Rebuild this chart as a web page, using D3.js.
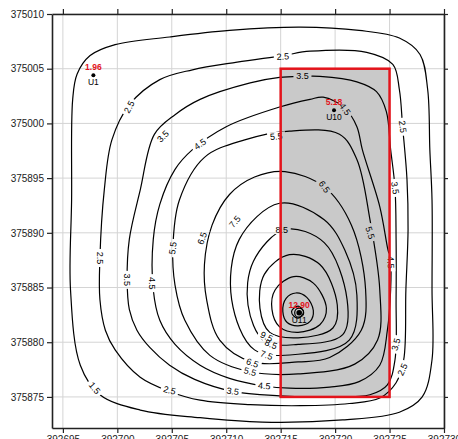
<!DOCTYPE html>
<html><head><meta charset="utf-8">
<script src="https://cdn.jsdelivr.net/npm/d3@7"></script>
<style>body{margin:0;background:#fff}svg{display:block}</style>
</head><body>
<script>
// Offsets in metres from origin (E0, N0)
const E0 = 392690, N0 = 374970;
const xTicks = [5,10,15,20,25,30,35,40];
const xTickLabels = ["392695","392700","392705","392710","392715","392720","392725","392730"];
const yTicks = [5,10,15,20,25,30,35,40];
const yTickLabels = ["375875","375880","375885","375890","375895","375000","375005","375010"];

// Contour lines (closed loops), [east offset, north offset]
const c15 = [[5.9,32.2],[5.8,23.0],[5.7,14.8],[6.6,7.9],[8.4,5.2],[12.1,3.8],[17.6,3.1],[23.3,2.7],[30.7,2.9],[35.9,3.6],[38.0,5.0],[38.9,8.4],[38.9,14.8],[38.9,23.0],[38.7,27.6],[38.5,33.1],[37.8,36.3],[35.9,37.8],[32.2,38.5],[26.8,38.8],[20.3,38.5],[14.8,37.9],[9.8,37.2],[7.5,36.2],[6.3,34.5]];
const c25 = [[8.4,17.7],[8.4,13.9],[8.9,11.1],[9.8,9.3],[12.1,6.8],[14.8,5.5],[17.6,4.7],[22.2,4.3],[26.8,4.2],[31.3,4.4],[34.1,4.9],[35.6,6.3],[36.3,8.4],[36.5,14.8],[36.7,20.3],[36.6,24.9],[36.2,29.7],[35.9,33.1],[35.3,35.4],[32.9,36.5],[27.7,36.6],[25.2,36.2],[21.0,35.6],[16.9,34.9],[13.9,34.0],[11.1,31.7],[9.5,28.5],[8.8,23.9]];
const c35 = [[10.9,15.7],[11.1,13.0],[11.8,11.1],[13.0,9.5],[14.8,7.9],[17.1,6.6],[20.6,5.5],[24.9,5.1],[29.5,5.0],[33.2,5.2],[34.8,6.1],[35.5,8.4],[35.6,13.9],[35.6,19.4],[35.5,24.1],[35.1,27.6],[34.7,31.1],[33.8,32.9],[32.0,33.8],[28.6,34.3],[27.0,34.3],[24.9,34.2],[22.2,33.7],[17.6,32.2],[15.3,30.8],[13.4,29.0],[12.1,23.9],[11.1,19.4]];
const c45 = [[13.3,14.8],[13.9,12.0],[15.3,9.8],[17.6,7.9],[20.3,6.7],[23.5,6.0],[25.8,5.8],[29.5,5.9],[32.2,6.4],[34.1,7.9],[34.8,11.1],[35.1,14.8],[35.1,17.3],[34.8,18.7],[34.1,22.4],[32.5,27.6],[32.0,29.7],[30.9,31.4],[28.9,32.4],[27.7,32.2],[24.9,31.5],[20.0,29.7],[16.9,27.6],[15.3,25.8],[13.9,22.6],[13.3,19.4]];
const c55 = [[25.8,29.3],[30.4,29.0],[32.0,26.7],[33.2,21.2],[34.1,14.8],[33.9,10.2],[31.8,8.0],[26.6,7.1],[22.2,7.3],[18.5,8.8],[16.2,12.0],[15.3,15.2],[15.1,18.6],[15.7,23.0],[18.0,26.9],[21.7,28.5]];
const c65 = [[25.4,25.6],[29.0,24.2],[31.5,20.7],[32.8,14.8],[32.4,11.1],[29.5,8.6],[26.6,8.2],[22.4,8.2],[19.4,10.2],[18.2,13.9],[18.0,17.1],[18.7,20.7],[20.3,23.5],[22.6,25.1]];
const c75 = [[24.9,22.7],[29.0,21.2],[30.9,18.4],[32.0,14.3],[31.3,10.2],[26.6,8.9],[22.6,9.3],[20.5,13.9],[21.2,19.4]];
const c85 = [[25.4,20.3],[29.0,19.1],[31.1,13.9],[30.7,10.7],[26.6,9.8],[23.5,10.1],[22.0,13.4],[22.5,17.4]];
const c95 = [[25.8,18.0],[28.6,17.1],[30.2,13.4],[29.8,11.3],[26.6,10.4],[24.0,10.9],[23.1,13.1],[23.5,16.2]];
const c105 = [[26.2,16.0],[28.0,15.4],[29.2,13.1],[28.6,11.6],[26.6,10.9],[24.9,11.4],[24.2,13.0],[24.5,14.8]];
const c115 = [[26.4,14.5],[27.4,14.1],[28.0,12.9],[27.7,11.9],[26.6,11.5],[25.6,11.8],[25.2,12.8],[25.5,14.0]];
const c125 = [[26.6,13.3],[26.9,13.1],[27.1,12.8],[26.9,12.4],[26.6,12.2],[26.2,12.4],[26.0,12.8],[26.2,13.1]];
const contourLines = [c15,c25,c35,c45,c55,c65,c75,c85,c95,c105,c115,c125];

// Contour labels: [level text, east, north, angle]
const contourLabels = [
  ["1.5",7.9,5.8,50],
  ["2.5",25.2,36.1,-3],["2.5",11.1,31.5,-62],["2.5",8.4,17.7,90],["2.5",36.2,29.7,82],["2.5",14.8,5.6,15],["2.5",36.2,7.5,-65],
  ["3.5",27.0,34.3,0],["3.5",14.2,28.8,-45],["3.5",10.9,15.7,90],["3.5",35.5,24.1,80],["3.5",20.6,5.5,8],["3.5",35.6,9.8,-75],
  ["4.5",17.6,28.1,-35],["4.5",13.2,15.4,90],["4.5",30.9,31.3,55],["4.5",35.1,17.3,88],["4.5",23.5,6.0,5],
  ["5.5",24.6,28.8,-5],["5.5",15.1,18.6,-82],["5.5",33.2,20.0,72],["5.5",22.2,7.3,15],
  ["6.5",17.8,19.5,-70],["6.5",29.0,24.2,55],["6.5",22.4,8.1,20],
  ["7.5",20.8,21.0,-50],["7.5",23.7,8.8,20],
  ["8.5",25.1,20.3,0],["8.5",24.1,9.8,22],
  ["9.5",23.7,10.5,25]
];

// Sampling wells
const wellNames = ["U1","U10","U11"];
const wellValues = ["1.96","5.18","12.90"];
const wellEast = [7.8,29.9,26.7];
const wellNorth = [34.4,31.2,12.7];

// Shaded zone
const zoneEast = [25,35];
const zoneNorth = [5,35];

const W = 458, H = 439;
const svg = d3.select("body").append("svg").attr("width",W).attr("height",H)
  .style("font-family","'Liberation Sans', Arial, sans-serif");
const x = d3.scaleLinear().domain([4,40]).range([52,444]);
const y = d3.scaleLinear().domain([2.16,40]).range([428,14]);
const x0 = x.range()[0], x1 = x.range()[1], yT = y.range()[1], yB = y.range()[0];

const defs = svg.append("defs");
defs.append("clipPath").attr("id","plotclip").append("rect")
  .attr("x",x0).attr("y",yT).attr("width",x1-x0).attr("height",yB-yT);

// grid
const grid = svg.append("g").attr("stroke","#d4d4d4").attr("stroke-width",1);
xTicks.forEach(t=>grid.append("line").attr("x1",x(t)).attr("x2",x(t)).attr("y1",yT).attr("y2",yB));
yTicks.forEach(t=>grid.append("line").attr("y1",y(t)).attr("y2",y(t)).attr("x1",x0).attr("x2",x1));

// shaded zone
svg.append("rect").attr("x",x(zoneEast[0])).attr("y",y(zoneNorth[1]))
  .attr("width",x(zoneEast[1])-x(zoneEast[0])).attr("height",y(zoneNorth[0])-y(zoneNorth[1]))
  .attr("fill","#c9c9c9");

// label mask
const lblW = t => t.length*5+3;
const mask = defs.append("mask").attr("id","lblmask").attr("maskUnits","userSpaceOnUse")
  .attr("x",0).attr("y",0).attr("width",W).attr("height",H);
mask.append("rect").attr("width",W).attr("height",H).attr("fill","white");
contourLabels.forEach(l=>{
  mask.append("rect").attr("x",-lblW(l[0])/2).attr("y",-4.5).attr("width",lblW(l[0])).attr("height",9)
    .attr("fill","black").attr("transform",`translate(${x(l[1])},${y(l[2])}) rotate(${l[3]})`);
});

const line = d3.line().x(d=>x(d[0])).y(d=>y(d[1])).curve(d3.curveCatmullRomClosed.alpha(0.5));
svg.append("g").attr("clip-path","url(#plotclip)").append("g").attr("mask","url(#lblmask)")
  .selectAll("path").data(contourLines).join("path")
  .attr("d",line).attr("fill","none").attr("stroke","#000").attr("stroke-width",1.2);

svg.append("g").selectAll("text").data(contourLabels).join("text")
  .attr("transform",l=>`translate(${x(l[1])},${y(l[2])}) rotate(${l[3]})`)
  .attr("text-anchor","middle").attr("dominant-baseline","central")
  .attr("font-size",9).attr("fill","#000").text(l=>l[0]);

// zone border
svg.append("rect").attr("x",x(zoneEast[0])).attr("y",y(zoneNorth[1]))
  .attr("width",x(zoneEast[1])-x(zoneEast[0])).attr("height",y(zoneNorth[0])-y(zoneNorth[1]))
  .attr("fill","none").attr("stroke","#e3131b").attr("stroke-width",2.5);

// wells
const wells = svg.append("g");
wellNames.forEach((n,i)=>{
  const cx = x(wellEast[i]), cy = y(wellNorth[i]);
  if (i===2) wells.append("circle").attr("cx",cx).attr("cy",cy).attr("r",4.5).attr("fill","none").attr("stroke","#000").attr("stroke-width",1.2);
  wells.append("circle").attr("cx",cx).attr("cy",cy).attr("r",i===2?2.8:2).attr("fill","#000");
  wells.append("text").attr("x",cx).attr("y",cy-5).attr("text-anchor","middle").attr("font-size",8.5)
    .attr("font-weight","bold").attr("fill","#e3131b").text(wellValues[i]);
  wells.append("text").attr("x",cx).attr("y",cy+10).attr("text-anchor","middle").attr("font-size",8.5)
    .attr("fill","#000").text(n);
});

// axes
const axStyle = g=>{ g.select(".domain").attr("stroke","#222").attr("stroke-width",1.6);
  g.selectAll(".tick line").attr("stroke","#222").attr("stroke-width",1.2);
  g.selectAll("text").attr("font-size",10).attr("fill","#222").attr("font-family","'Liberation Sans', Arial, sans-serif"); };
svg.append("g").attr("transform",`translate(${x0},0)`)
  .call(d3.axisLeft(y).tickValues(yTicks).tickFormat((d,i)=>yTickLabels[i]).tickSize(5).tickPadding(3).tickSizeOuter(0)).call(axStyle);
svg.append("g").attr("transform",`translate(${x1},0)`)
  .call(d3.axisRight(y).tickValues(yTicks).tickFormat("").tickSize(4).tickSizeOuter(0)).call(axStyle);
svg.append("g").attr("transform",`translate(0,${yT})`)
  .call(d3.axisTop(x).tickValues(xTicks).tickFormat("").tickSize(5).tickSizeOuter(0)).call(axStyle);
svg.append("g").attr("transform",`translate(0,${yB})`)
  .call(d3.axisBottom(x).tickValues(xTicks).tickFormat((d,i)=>xTickLabels[i]).tickSize(5).tickPadding(3).tickSizeOuter(0)).call(axStyle);
</script>
</body></html>
